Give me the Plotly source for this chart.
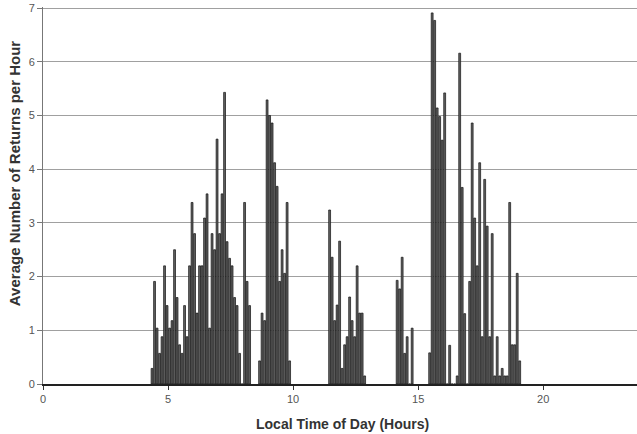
import numpy as np
import plotly.graph_objects as go

# average returns per hour, in 6-minute bins; each block starts at the given hour
morning_start = 4.3
morning = [0.29, 1.91, 1.04, 0.57, 0.88, 2.2, 1.46, 1.04, 1.18, 2.5,
           1.61, 0.73, 0.57, 1.46, 0.88, 2.2, 3.38, 2.8, 1.32, 2.2,
           2.2, 3.09, 3.54, 1.04, 2.8, 2.5, 4.56, 2.8, 3.54, 5.43,
           2.65, 2.34, 2.2, 1.61, 1.46, 0.57, 0, 3.38, 1.91, 1.46]

late_morning_start = 8.6
late_morning = [0.43, 1.32, 1.18, 5.29, 5.0, 4.86, 4.12, 3.68, 1.91, 2.5,
                2.06, 3.38, 0.43]

midday_start = 11.4
midday = [3.24, 2.36, 1.18, 1.47, 2.66, 0.29, 0.73, 0.88, 1.62, 1.18,
          0.88, 2.2, 1.32, 1.32, 0.15]

early_afternoon_start = 14.1
early_afternoon = [1.93, 1.77, 2.36, 0.57, 0.88, 0, 1.04]

afternoon_start = 15.4
afternoon = [0.58, 6.91, 6.77, 5.14, 4.98, 4.54, 5.42, 0, 0.72, 0,
             0, 0.15, 6.16, 3.66, 1.31, 0, 1.91, 4.86, 3.09, 2.2,
             4.12, 0.88, 3.81, 2.94, 0.88, 2.8, 0.15, 0.88, 0.15, 0.29,
             0.15, 0.15, 3.38, 0.73, 0.73, 2.06, 0.43]

blocks = [(morning_start, morning), (late_morning_start, late_morning),
          (midday_start, midday), (early_afternoon_start, early_afternoon),
          (afternoon_start, afternoon)]

x_tick_vals = [0, 5, 10, 15, 20]
y_tick_vals = [0, 1, 2, 3, 4, 5, 6, 7]

hours = []
values = []
for start, vals in blocks:
    centers = start + 0.1 * np.arange(len(vals)) + 0.06
    hours.extend(np.round(centers, 2).tolist())
    values.extend(vals)

fig = go.Figure()
fig.add_trace(go.Bar(
    x=hours,
    y=values,
    width=0.075,
    marker=dict(color="#626262", line=dict(color="#111111", width=0.7)),
    showlegend=False,
))

font_family = "Liberation Sans, Arial, sans-serif"
grid_color = "#a0a0a0"

fig.update_layout(
    width=637,
    height=434,
    margin=dict(l=43, r=0, t=7, b=50),
    paper_bgcolor="white",
    plot_bgcolor="white",
    font=dict(family=font_family, size=11, color="#555555"),
    xaxis=dict(
        range=[0, 23.75],
        tickvals=x_tick_vals,
        ticks="outside",
        ticklen=4,
        tickcolor="#333333",
        showgrid=False,
        showline=True,
        linecolor="#222222",
        linewidth=1.5,
        zeroline=False,
        automargin=False,
    ),
    yaxis=dict(
        range=[0, 7.02],  # a hair of headroom so the gridline at 7 is drawn
        tickvals=y_tick_vals,
        ticks="outside",
        ticklen=5,
        tickcolor="#777777",
        showgrid=True,
        gridcolor=grid_color,
        gridwidth=1.2,
        showline=True,
        linecolor="#777777",
        linewidth=1,
        zeroline=False,
        automargin=False,
    ),
    annotations=[
        dict(text="<b>Local Time of Day (Hours)</b>", xref="paper", yref="paper",
             x=0.504, y=-0.107, xanchor="center", yanchor="middle", showarrow=False,
             font=dict(size=14, color="#333333")),
        dict(text="<b>Average Number of Returns per Hour</b>", xref="paper", yref="paper",
             x=-0.049, y=0.559, xanchor="center", yanchor="middle", textangle=-90,
             showarrow=False, font=dict(size=15, color="#333333")),
    ],
)

# drop the default page margin so the figure fills the window exactly
fig.write_html(
    "out.html",
    config={"displayModeBar": False},
    post_script="document.body.style.margin='0';document.body.style.overflow='hidden';",
)
